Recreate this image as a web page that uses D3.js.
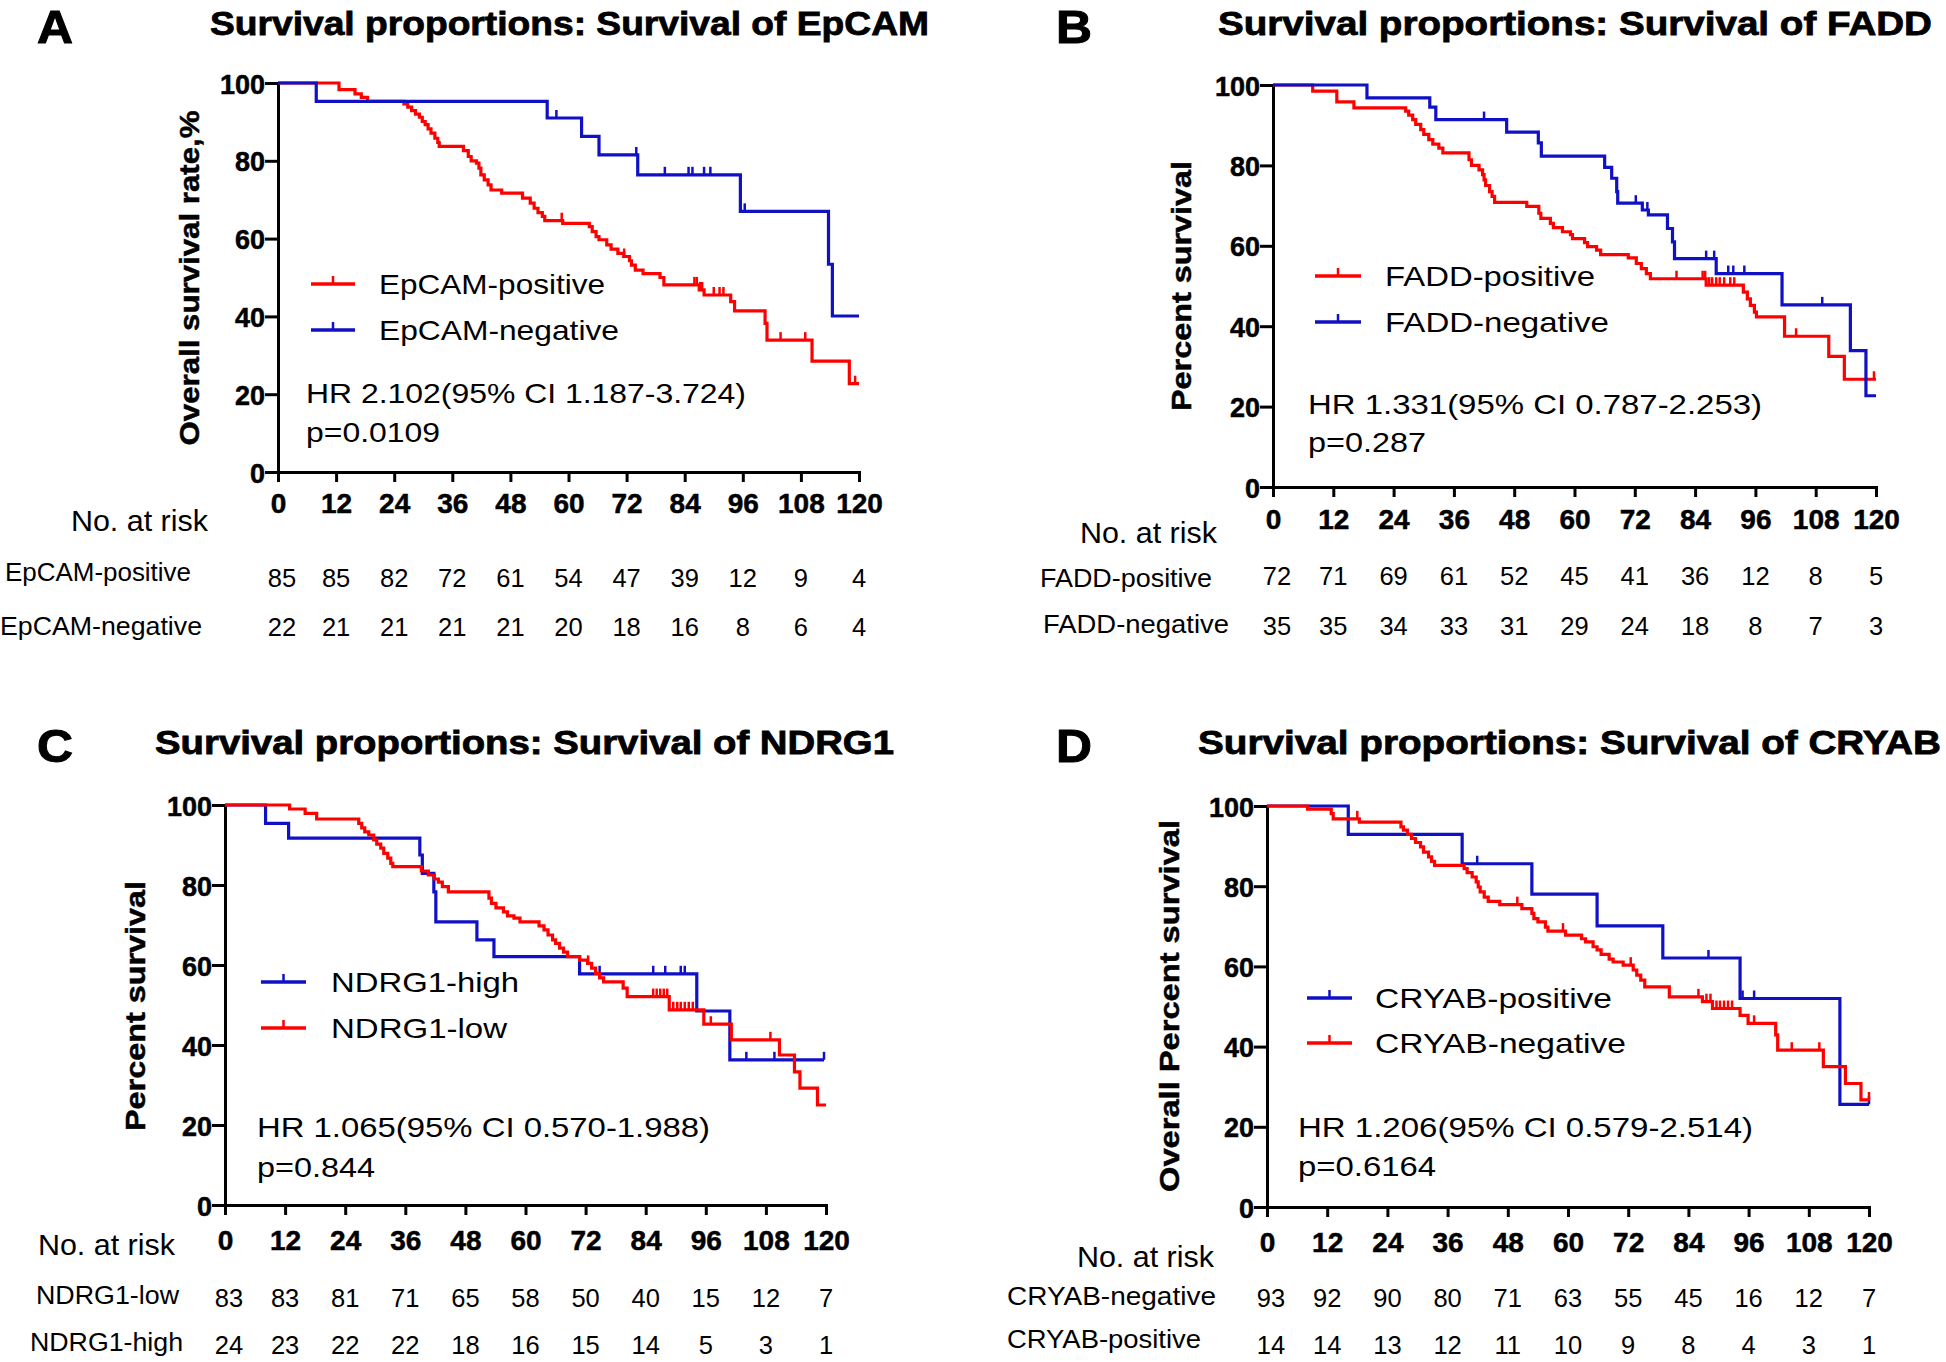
<!DOCTYPE html>
<html><head><meta charset="utf-8">
<script src="https://cdn.jsdelivr.net/npm/d3@7"></script>
<style>
html,body{margin:0;padding:0;background:#fff;}
svg{display:block;}
</style></head><body>
<svg id="chart" width="1946" height="1362"></svg>
<script>
// ---------------- DATA ----------------
const monthTicks = [0,12,24,36,48,60,72,84,96,108,120];
const percentTicks = [0,20,40,60,80,100];

// Panel A : EpCAM  ([month, percent] step points)
const epcamPos = [[0,100],[12.6,98.3],[15.9,97.2],[17.2,96.3],[18.5,95.3],[26.0,94.6],[26.8,93.8],[27.6,92.9],[28.4,92.0],[29.2,91.2],[29.8,90.1],[30.4,89.3],[31.0,88.2],[31.6,87.1],[32.4,85.8],[33.0,84.7],[33.3,83.7],[38.3,82.6],[39.3,81.1],[39.9,80.0],[41.0,79.4],[41.5,78.1],[41.9,76.4],[42.6,75.1],[43.4,73.8],[44.0,72.5],[46.2,71.7],[50.5,70.4],[52.1,69.1],[52.9,67.8],[53.7,66.7],[54.6,65.7],[55.1,64.6],[58.8,63.9],[64.3,63.1],[64.9,61.8],[65.7,60.5],[66.3,59.7],[67.9,58.4],[68.8,57.3],[70.2,56.2],[71.4,55.4],[72.6,54.3],[73.0,53.2],[73.8,51.9],[75.4,51.0],[78.9,50.0],[79.7,48.1],[87.0,46.8],[88.0,45.5],[93.5,43.8],[94.3,41.4],[100.6,38.2],[101.0,33.9],[110.3,28.5],[118.0,22.7],[120,22.7]];
const epcamPosCensor = [58.6,71.5,86.0,86.5,87.2,87.6,90.0,91.2,92.0,103.8,108.9,119.2];
const epcamNeg = [[0,100],[7.9,95.3],[55.6,91.0],[62.7,86.3],[66.3,81.5],[74.3,76.4],[95.5,67.0],[113.7,53.4],[114.5,40.1],[120,40.1]];
const epcamNegCensor = [57.5,74.0,79.9,84.8,85.6,88.0,89.3,96.4];
const epcamPosRisk = [85,85,82,72,61,54,47,39,12,9,4];
const epcamNegRisk = [22,21,21,21,21,20,18,16,8,6,4];

// Panel B : FADD
const faddPos = [[0,100],[7.9,98.5],[12.7,95.8],[16.1,94.3],[26.4,93.5],[27.0,92.5],[27.8,91.4],[28.4,90.2],[29.4,88.9],[30.0,87.7],[31.0,86.4],[31.8,85.3],[33.0,84.3],[33.8,83.1],[39.0,81.4],[39.5,80.0],[41.0,78.9],[41.7,77.7],[42.0,76.4],[42.3,75.0],[43.1,73.5],[43.6,72.3],[44.1,70.8],[50.5,69.8],[52.9,68.1],[53.3,66.8],[55.2,65.6],[55.8,64.5],[57.6,63.5],[59.2,62.8],[59.6,61.8],[62.0,60.8],[62.6,59.8],[64.4,58.9],[65.2,57.8],[70.7,57.0],[72.3,55.6],[73.3,54.3],[74.3,53.1],[75.1,51.8],[86.2,50.2],[93.6,48.5],[94.4,46.8],[95.0,45.2],[95.8,43.5],[96.2,42.3],[101.8,37.5],[110.6,32.5],[113.7,26.8],[120,26.8]];
const faddPosCensor = [80.3,85.5,86.0,86.8,87.4,88.2,88.9,89.8,91.0,91.8,104.1,119.6];
const faddNeg = [[0,100],[18.7,96.8],[31.2,94.5],[32.4,91.4],[46.5,88.3],[52.8,85.6],[53.4,82.3],[66.0,79.5],[67.4,76.8],[68.4,73.5],[68.6,70.6],[73.5,68.9],[74.7,67.7],[78.5,64.3],[79.5,61.0],[79.9,56.8],[88.2,53.1],[101.3,45.3],[114.9,33.9],[118.0,22.7],[120,22.7]];
const faddNegCensor = [42.0,72.2,74.5,86.2,87.8,90.6,91.6,93.8,109.3];
const faddPosRisk = [72,71,69,61,52,45,41,36,12,8,5];
const faddNegRisk = [35,35,34,33,31,29,24,18,8,7,3];

// Panel C : NDRG1
const ndrgHigh = [[0,100],[8.1,95.4],[12.7,91.7],[38.9,87.5],[39.4,82.9],[41.7,78.3],[42.1,70.8],[50.3,66.3],[53.7,62.1],[70.8,57.8],[94.2,48.5],[100.8,36.3],[119.6,36.3]];
const ndrgHighCensor = [74.8,85.5,87.9,91.0,91.8,104.1,109.7,119.6];
const ndrgLow = [[0,100],[12.9,99.0],[16.0,97.9],[18.3,96.5],[26.7,95.4],[27.3,94.3],[27.9,93.3],[28.7,92.5],[29.7,91.3],[30.3,90.2],[31.1,89.2],[31.7,87.9],[32.5,86.7],[33.1,85.4],[33.5,84.6],[39.2,83.5],[40.6,82.5],[41.8,81.5],[42.6,80.7],[43.4,79.6],[44.6,78.3],[52.7,76.7],[53.2,75.4],[54.1,74.3],[55.6,73.3],[56.4,72.3],[57.7,71.7],[58.9,70.8],[62.7,69.8],[63.7,68.8],[64.5,67.5],[65.4,66.3],[66.0,65.4],[66.8,64.2],[67.6,63.2],[68.4,62.1],[70.8,61.2],[72.4,60.4],[73.2,59.2],[74.0,57.9],[74.8,56.8],[75.6,55.8],[79.5,54.2],[80.3,52.1],[88.7,48.8],[95.6,45.2],[101.1,41.3],[110.7,37.5],[113.7,33.3],[114.8,29.2],[118.3,25.0],[120,25.0]];
const ndrgLowCensor = [72.5,85.5,86.2,86.9,87.6,88.3,89.5,90.3,91.0,91.8,92.6,93.4,97.0,108.9];
const ndrgLowRisk = [83,83,81,71,65,58,50,40,15,12,7];
const ndrgHighRisk = [24,23,22,22,18,16,15,14,5,3,1];

// Panel D : CRYAB
const cryabPos = [[0,100],[16.2,92.9],[38.9,85.6],[52.8,78.0],[65.8,70.1],[78.9,62.1],[94.3,52.0],[114.2,25.6],[120,25.6]];
const cryabPosCensor = [41.9,88.0,94.8,97.1,120];
const cryabNeg = [[0,100],[8.1,99.2],[12.8,98.1],[13.2,96.8],[18.4,96.0],[26.7,94.8],[27.2,94.0],[28.0,92.9],[28.8,91.9],[29.6,90.9],[30.6,89.8],[31.2,88.5],[32.2,87.3],[32.8,86.2],[33.4,85.2],[39.3,84.4],[39.9,83.4],[40.9,82.3],[41.7,81.1],[42.1,79.8],[42.5,78.6],[43.3,77.3],[44.1,76.2],[46.4,75.4],[50.8,74.4],[52.8,73.2],[53.2,71.9],[54.0,71.1],[55.5,69.8],[56.0,68.8],[59.5,67.8],[62.7,66.9],[63.5,66.1],[65.0,64.9],[65.8,64.1],[66.6,63.0],[68.2,61.8],[69.0,61.1],[71.0,60.3],[73.0,59.1],[73.7,57.8],[74.5,56.6],[75.3,54.9],[80.2,52.4],[86.8,51.2],[88.8,49.5],[94.3,47.8],[95.9,45.8],[101.4,42.9],[101.8,39.1],[110.9,35.0],[115.3,30.8],[118.4,26.7],[120,26.7]];
const cryabNegCensor = [18.0,49.9,59.0,72.5,86.0,87.6,88.4,89.6,90.3,91.1,91.9,92.7,97.1,104.6,110.1,120];
const cryabNegRisk = [93,92,90,80,71,63,55,45,16,12,7];
const cryabPosRisk = [14,14,13,12,11,10,9,8,4,3,1];

// ---------------- STYLE / LAYOUT ----------------
const RED = '#ff0000', BLUE = '#1010c4';
const FONT = '"Liberation Sans", Arial, Helvetica, sans-serif';

const panels = [
  { letter:'A', title:'Survival proportions: Survival of EpCAM', yLabel:'Overall survival rate,%',
    hr:'HR 2.102(95% CI 1.187-3.724)', p:'p=0.0109',
    series:[{name:'EpCAM-positive', data:epcamPos, censor:epcamPosCensor, color:RED},
            {name:'EpCAM-negative', data:epcamNeg, censor:epcamNegCensor, color:BLUE}],
    risk:[{name:'EpCAM-positive', values:epcamPosRisk},{name:'EpCAM-negative', values:epcamNegRisk}],
    L:{x0:278,x1:859,yTop:83,yBot:472, letter:[37,43], title:[210,35,719], yLab:[199,278,335], tickDy:41,
       leg:[311,355,379], legY:[284,330], legW:[226,240], hr:[306,403,440], pY:442, pW:134,
       head:[208,531], rowX:[5,0], rowW:[186,202], rowY:[581,635], numY:[587,636]} },
  { letter:'B', title:'Survival proportions: Survival of FADD', yLabel:'Percent survival',
    hr:'HR 1.331(95% CI 0.787-2.253)', p:'p=0.287',
    series:[{name:'FADD-positive', data:faddPos, censor:faddPosCensor, color:RED},
            {name:'FADD-negative', data:faddNeg, censor:faddNegCensor, color:BLUE}],
    risk:[{name:'FADD-positive', values:faddPosRisk},{name:'FADD-negative', values:faddNegRisk}],
    L:{x0:1273,x1:1876,yTop:85,yBot:487, letter:[1056,43], title:[1218,35,714], yLab:[1191,286,250], tickDy:42,
       leg:[1315,1361,1385], legY:[276,322], legW:[210,224], hr:[1308,414,454], pY:452, pW:118,
       head:[1217,543], rowX:[1040,1043], rowW:[172,186], rowY:[587,633], numY:[585,635]} },
  { letter:'C', title:'Survival proportions: Survival of NDRG1', yLabel:'Percent survival',
    hr:'HR 1.065(95% CI 0.570-1.988)', p:'p=0.844',
    series:[{name:'NDRG1-high', data:ndrgHigh, censor:ndrgHighCensor, color:BLUE},
            {name:'NDRG1-low', data:ndrgLow, censor:ndrgLowCensor, color:RED}],
    risk:[{name:'NDRG1-low', values:ndrgLowRisk},{name:'NDRG1-high', values:ndrgHighRisk}],
    L:{x0:225,x1:826,yTop:805,yBot:1205, letter:[37,762], title:[155,754,739], yLab:[145,1006,250], tickDy:45,
       leg:[261,306,331], legY:[982,1028], legW:[188,176], hr:[257,1137,453], pY:1177, pW:118,
       head:[175,1255], rowX:[36,30], rowW:[143,153], rowY:[1304,1351], numY:[1307,1354]} },
  { letter:'D', title:'Survival proportions: Survival of CRYAB', yLabel:'Overall Percent survival',
    hr:'HR 1.206(95% CI 0.579-2.514)', p:'p=0.6164',
    series:[{name:'CRYAB-positive', data:cryabPos, censor:cryabPosCensor, color:BLUE},
            {name:'CRYAB-negative', data:cryabNeg, censor:cryabNegCensor, color:RED}],
    risk:[{name:'CRYAB-negative', values:cryabNegRisk},{name:'CRYAB-positive', values:cryabPosRisk}],
    L:{x0:1267,x1:1869,yTop:806,yBot:1207, letter:[1056,762], title:[1198,754,743], yLab:[1179,1006,372], tickDy:45,
       leg:[1307,1352,1375], legY:[998,1043], legW:[237,251], hr:[1298,1137,455], pY:1176, pW:138,
       head:[1214,1267], rowX:[1007,1007], rowW:[209,194], rowY:[1305,1348], numY:[1307,1354]} }
];

// ---------------- DRAW ----------------
const svg = d3.select('#chart');
svg.append('rect').attr('width',1946).attr('height',1362).attr('fill','#fff');

function stretch(sel, f){
  sel.each(function(){
    const w = this.getComputedTextLength();
    d3.select(this).attr('textLength', (w*f).toFixed(1)).attr('lengthAdjust','spacingAndGlyphs');
  });
  return sel;
}
function fitTo(sel, w){ return sel.attr('textLength', w).attr('lengthAdjust','spacingAndGlyphs'); }
function txt(g, x, y, s, size, weight){
  return g.append('text').attr('x',x).attr('y',y).attr('font-family',FONT)
    .attr('font-size',size).attr('font-weight',weight||'normal').attr('fill','#000').text(s);
}
function heavy(sel, w){ return sel.attr('stroke','#000').attr('stroke-width',w).attr('paint-order','stroke'); }
function levelAt(data, t){
  let v = data[0][1];
  for (const d of data) if (d[0] <= t) v = d[1];
  return v;
}

panels.forEach(P => {
  const L = P.L;
  const g = svg.append('g');
  const x = d3.scaleLinear().domain([0,120]).range([L.x0, L.x1]);
  const y = d3.scaleLinear().domain([0,100]).range([L.yBot, L.yTop]);

  // panel letter & title
  const letter = txt(g, L.letter[0], L.letter[1], P.letter, 47, 'bold');
  heavy(letter, 1);
  stretch(letter, 1.06);
  heavy(fitTo(txt(g, L.title[0], L.title[1], P.title, 34, 'bold'), L.title[2]), 0.8);

  // y axis label
  heavy(fitTo(txt(g, 0, 0, P.yLabel, 28, 'bold').attr('text-anchor','middle')
    .attr('transform', `translate(${L.yLab[0]},${L.yLab[1]}) rotate(-90)`), L.yLab[2]), 0.5);

  // axes
  const xa = g.append('g').attr('transform', `translate(0,${L.yBot})`)
    .call(d3.axisBottom(x).tickValues(monthTicks).tickSize(10).tickSizeOuter(0));
  const ya = g.append('g').attr('transform', `translate(${L.x0},0)`)
    .call(d3.axisLeft(y).tickValues(percentTicks).tickSize(13).tickSizeOuter(0).tickPadding(0));
  [xa, ya].forEach(a => {
    a.select('.domain').attr('stroke','#000').attr('stroke-width',3).attr('stroke-linecap','square');
    a.selectAll('.tick line').attr('stroke','#000').attr('stroke-width',3);
    a.selectAll('.tick text').attr('font-family',FONT).attr('font-weight','bold').attr('fill','#000');
    heavy(a.selectAll('.tick text'), 0.5);
  });
  xa.selectAll('.tick text').attr('font-size',28).attr('dy', null).attr('y', L.tickDy);
  ya.selectAll('.tick text').attr('font-size',27).attr('dy', null).attr('y', 10);

  // curves
  const line = d3.line().x(d => x(d[0])).y(d => y(d[1])).curve(d3.curveStepAfter);
  P.series.forEach(s => {
    g.append('path').datum(s.data).attr('d', line).attr('fill','none')
      .attr('stroke', s.color).attr('stroke-width', 3.2).attr('stroke-linejoin','miter');
    g.append('g').selectAll('line').data(s.censor).join('line')
      .attr('x1', t => x(t)).attr('x2', t => x(t))
      .attr('y1', t => y(levelAt(s.data, t))).attr('y2', t => y(levelAt(s.data, t)) - 8)
      .attr('stroke', s.color).attr('stroke-width', 2.5);
  });

  // legend
  P.series.forEach((s, i) => {
    const ly = L.legY[i];
    g.append('line').attr('x1', L.leg[0]).attr('x2', L.leg[1]).attr('y1', ly).attr('y2', ly)
      .attr('stroke', s.color).attr('stroke-width', 3.4);
    const mx = (L.leg[0] + L.leg[1]) / 2;
    g.append('line').attr('x1', mx).attr('x2', mx).attr('y1', ly).attr('y2', ly - 8)
      .attr('stroke', s.color).attr('stroke-width', 2.5);
    fitTo(txt(g, L.leg[2], ly + 10, s.name, 28), L.legW[i]);
  });

  // statistics
  fitTo(txt(g, L.hr[0], L.hr[1], P.hr, 28), L.hr[2]);
  fitTo(txt(g, L.hr[0], L.pY, P.p, 28), L.pW);

  // number at risk table
  const head = txt(g, L.head[0], L.head[1], 'No. at risk', 29).attr('text-anchor','end');
  stretch(head, 1.05);
  P.risk.forEach((r, i) => {
    fitTo(txt(g, L.rowX[i], L.rowY[i], r.name, 25), L.rowW[i]);
    g.append('g').selectAll('text').data(r.values).join('text')
      .attr('x', (d, k) => x(monthTicks[k]) + (k === 0 ? 4 : 0)).attr('y', L.numY[i])
      .attr('text-anchor','middle').attr('font-family',FONT).attr('font-size',25.5).attr('fill','#000')
      .text(d => d);
  });
});
</script>
</body></html>
